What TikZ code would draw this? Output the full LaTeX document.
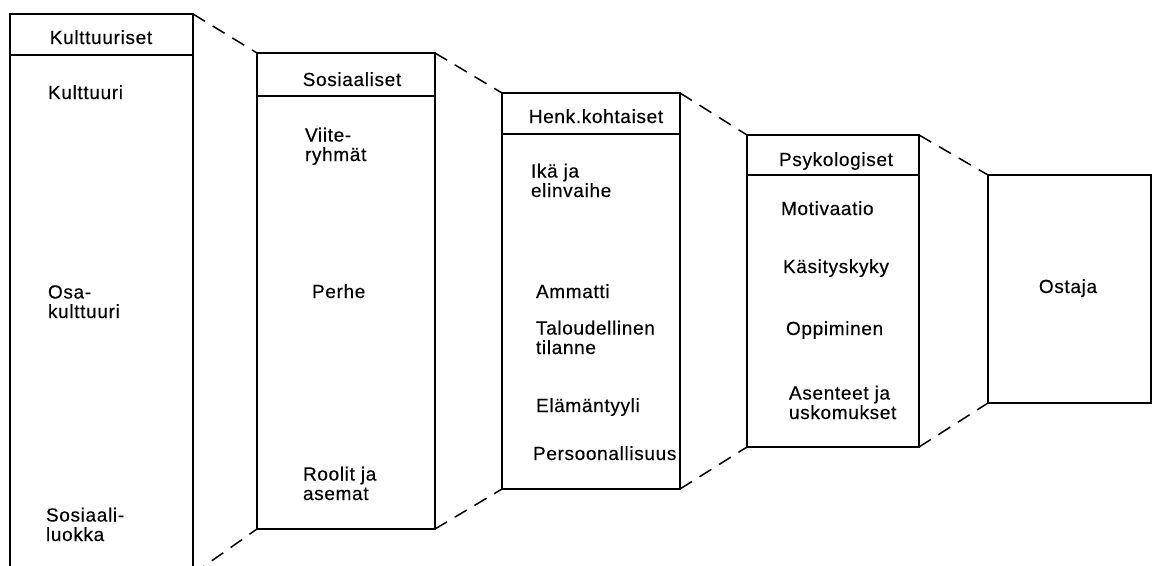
\documentclass[tikz,border=0pt]{standalone}
\usepackage{fontspec}
\setmainfont{Liberation Sans}[LetterSpace=3.5, FakeBold=0.3]
\begin{document}
\begin{tikzpicture}[x=1pt,y=-1pt,
  box/.style={draw, line width=1.8pt, rectangle, inner sep=0pt, outer sep=0pt, anchor=north west},
  sepline/.style={line width=1.8pt},
  txt/.style={font=\fontsize{19}{19.5}\selectfont, inner sep=0pt, outer sep=0pt},
  lbl/.style={txt, anchor=base west, align=left},
  head/.style={txt, anchor=base},
  link/.style={line width=1.5pt, dash pattern=on 14pt off 9pt}]
\useasboundingbox (0,0) rectangle (1154,565);
\fill[white] (0,0) rectangle (1154,565);

% the five stages
\node[box, minimum width=183pt, minimum height=560pt] (b1) at (10,14) {};
\node[box, minimum width=178pt, minimum height=476pt] (b2) at (257,53) {};
\node[box, minimum width=178pt, minimum height=396pt] (b3) at (502,93) {};
\node[box, minimum width=172pt, minimum height=312pt] (b4) at (747,135) {};
\node[box, minimum width=163pt, minimum height=228pt] (b5) at (988,175) {};

% header separators
\draw[sepline] ([yshift=-41pt]b1.north west) -- ([yshift=-41pt]b1.north east);
\draw[sepline] ([yshift=-43pt]b2.north west) -- ([yshift=-43pt]b2.north east);
\draw[sepline] ([yshift=-41pt]b3.north west) -- ([yshift=-41pt]b3.north east);
\draw[sepline] ([yshift=-40pt]b4.north west) -- ([yshift=-40pt]b4.north east);

% dashed perspective links
\draw[link] (b1.north east) -- (b2.north west);
\draw[link] (b2.north east) -- (b3.north west);
\draw[link] (b3.north east) -- (b4.north west);
\draw[link] (b4.north east) -- (b5.north west);
\draw[link] (b1.south east) -- (b2.south west);
\draw[link] (b2.south east) -- (b3.south west);
\draw[link] (b3.south east) -- (b4.south west);
\draw[link] (b4.south east) -- (b5.south west);

% headers
\node[head] (h1) at (101,44) {Kulttuuriset};
\node[head] (h2) at (352,86) {Sosiaaliset};
\node[head] (h3) at (596,123) {Henk.kohtaiset};
\node[head] (h4) at (836,166) {Psykologiset};

% cultural factors (base = last line)
\node[lbl] (k1) at (48,99) {Kulttuuri};
\node[lbl] (k2) at (48,318) {Osa-\\kulttuuri};
\node[lbl] (k3) at (46,541) {Sosiaali-\\luokka};

% social factors
\node[lbl] (s1) at (305,161) {Viite-\\ryhmät};
\node[lbl] (s2) at (312,298) {Perhe};
\node[lbl] (s3) at (303,500) {Roolit ja\\asemat};

% personal factors
\node[lbl] (p1) at (531,197) {Ikä ja\\elinvaihe};
\node[lbl] (p2) at (536,298) {Ammatti};
\node[lbl] (p3) at (536,354) {Taloudellinen\\tilanne};
\node[lbl] (p4) at (536,412) {Elämäntyyli};
\node[lbl] (p5) at (533,460) {Persoonallisuus};

% psychological factors
\node[lbl] (y1) at (781,215) {Motivaatio};
\node[lbl] (y2) at (783,273) {Käsityskyky};
\node[lbl] (y3) at (786,335) {Oppiminen};
\node[lbl] (y4) at (789,419) {Asenteet ja\\uskomukset};

% buyer
\node[head] (o) at (1068,293) {Ostaja};
\end{tikzpicture}
\end{document}
